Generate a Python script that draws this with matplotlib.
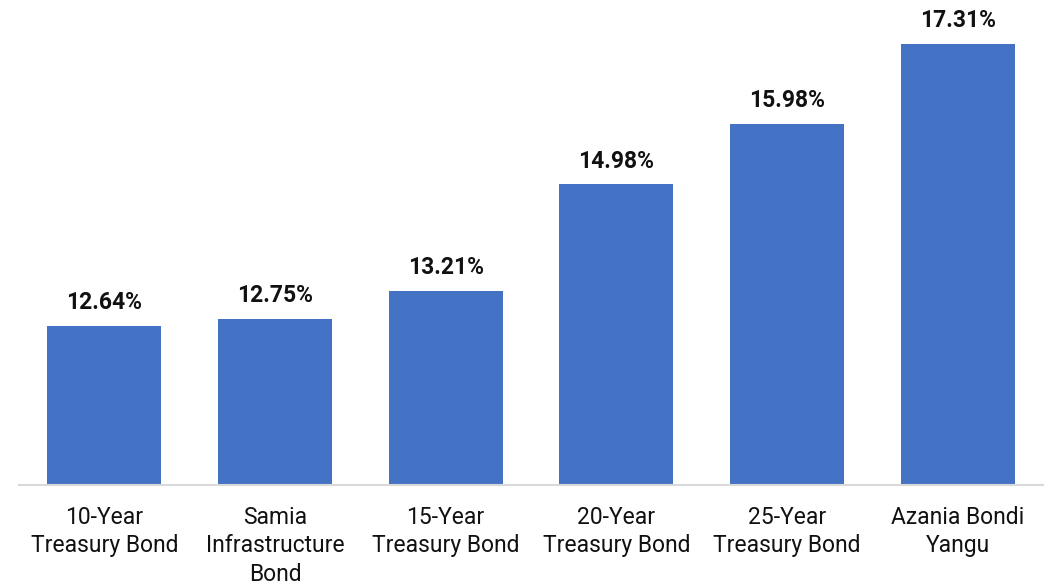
import matplotlib
matplotlib.use("Agg")
import matplotlib.pyplot as plt

categories = [
    "10-Year\nTreasury Bond",
    "Samia\nInfrastructure\nBond",
    "15-Year\nTreasury Bond",
    "20-Year\nTreasury Bond",
    "25-Year\nTreasury Bond",
    "Azania Bondi\nYangu",
]
rates = [12.64, 12.75, 13.21, 14.98, 15.98, 17.31]

plt.rcParams["font.family"] = ["Roboto", "DejaVu Sans"]

fig = plt.figure(figsize=(10.53, 5.85), dpi=100)
ax = fig.add_axes([0.018, 0.171, 0.9725, 0.8256])

xpos = list(range(len(categories)))
bars = ax.bar(xpos, rates, width=0.667, color="#4472C4", bottom=0)

for x, v in zip(xpos, rates):
    ax.annotate(f"{v:.2f}%", (x, v), xytext=(0, 8.5), textcoords="offset points",
                ha="center", va="bottom", fontsize=16.5, fontweight="bold", color="#111111")

ax.set_ylim(10, 18)
ax.set_xlim(-0.5, len(categories) - 0.5)
ax.set_yticks([])
ax.set_xticks(xpos)
ax.set_xticklabels(categories, fontsize=16.5, linespacing=1.3, color="#111111")
ax.tick_params(axis="x", length=0, pad=15)
for s in ["top", "right", "left"]:
    ax.spines[s].set_visible(False)
ax.spines["bottom"].set_color("#D9D9D9")
ax.spines["bottom"].set_linewidth(1.5)

fig.savefig("out.png", dpi=100)
